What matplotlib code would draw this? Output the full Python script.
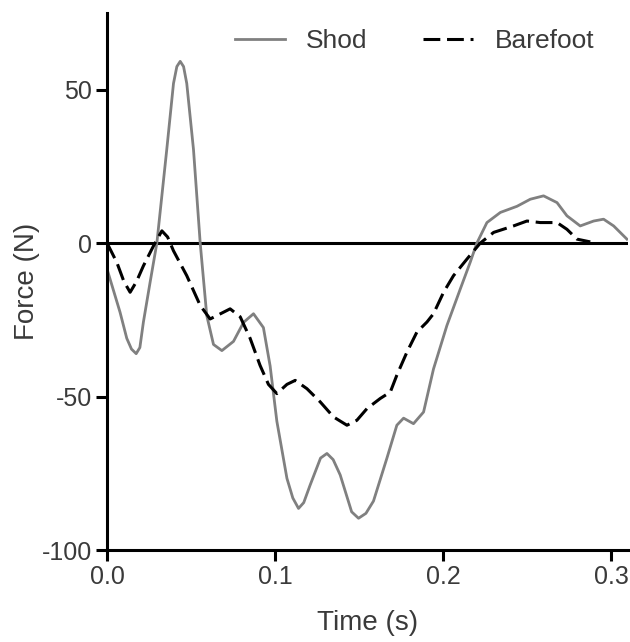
import matplotlib
matplotlib.use("Agg")
import matplotlib.pyplot as plt

plt.rcParams["font.family"] = ["Liberation Sans", "DejaVu Sans"]

# ── Data ──────────────────────────────────────────────────
shod_t = [0.0000, 0.0077, 0.0117, 0.0145, 0.0173, 0.0195, 0.0216, 0.0256, 0.0296, 0.0355,
          0.0395, 0.0415, 0.0435, 0.0455, 0.0474, 0.0514, 0.0554, 0.0593, 0.0633, 0.0683,
          0.0752, 0.0812, 0.0871, 0.0930, 0.0970, 0.1010, 0.1070, 0.1105, 0.1139, 0.1170,
          0.1208, 0.1270, 0.1308, 0.1345, 0.1387, 0.1455, 0.1496, 0.1540, 0.1585, 0.1665,
          0.1724, 0.1764, 0.1823, 0.1883, 0.1942, 0.2022, 0.2101, 0.2160, 0.2200, 0.2260,
          0.2340, 0.2439, 0.2518, 0.2597, 0.2677, 0.2736, 0.2815, 0.2895, 0.2954, 0.3014,
          0.3093]
shod_f = [-8.5, -22.5, -31, -34.5, -36, -34, -25.7, -12.7, 0, 30.5,
          52, 57.5, 59.2, 57.5, 52, 30.5, 0, -23.6, -33, -35,
          -32, -25.8, -23, -27.5, -40, -58, -76.6, -83, -86.4, -84.5,
          -78.8, -70, -68.5, -70.5, -75.5, -87.5, -89.6, -88, -84, -70,
          -59.3, -57, -58.8, -55, -41, -26.8, -15, -6.3, 0, 6.7,
          10, 12, 14.3, 15.4, 13.2, 8.9, 5.6, 7.2, 7.8, 5.6,
          1.3]

bare_t = [0.0000, 0.0058, 0.0100, 0.0137, 0.0175, 0.0216, 0.0276, 0.0326, 0.0360, 0.0395,
          0.0474, 0.0554, 0.0613, 0.0653, 0.0732, 0.0792, 0.0851, 0.0910, 0.0960, 0.1010,
          0.1070, 0.1119, 0.1189, 0.1268, 0.1347, 0.1427, 0.1486, 0.1546, 0.1625, 0.1685,
          0.1724, 0.1784, 0.1843, 0.1903, 0.1942, 0.2002, 0.2061, 0.2141, 0.2220, 0.2300,
          0.2418, 0.2498, 0.2577, 0.2677, 0.2736, 0.2796, 0.2875]
bare_f = [0, -6.3, -12.5, -16, -12.5, -7.4, -0.9, 4, 2, -2.5,
          -10.6, -20.3, -24.7, -23.6, -21.4, -24, -31, -39.8, -46, -49,
          -46, -44.7, -47.4, -51.7, -56.6, -59.3, -57.7, -53.9, -50.6, -48.5,
          -43, -35.5, -29, -25.7, -23, -16, -10.6, -5.2, 0, 3.5,
          5.6, 7.2, 6.7, 6.7, 4.5, 1.3, 0.4]

x_ticks = [0.0, 0.1, 0.2, 0.3]
x_tick_labels = ["0.0", "0.1", "0.2", "0.3"]
y_ticks = [-100, -50, 0, 50]
y_tick_labels = ["-100", "-50", "0", "50"]

# ── Plot ──────────────────────────────────────────────────
fig = plt.figure(figsize=(6.3, 6.42), dpi=100)
ax = fig.add_axes([0.170, 0.143, 0.827, 0.837])

ax.axhline(0, color="black", linewidth=2.2, zorder=1)
ax.plot(shod_t, shod_f, color="#808080", linewidth=2.0, label="Shod",
        solid_joinstyle="round", zorder=2)
ax.plot(bare_t, bare_f, color="black", linewidth=2.2, dashes=(5.5, 2.2),
        label="Barefoot", zorder=3)

ax.set_xlim(0, 0.31)
ax.set_ylim(-100, 75)
ax.set_xticks(x_ticks)
ax.set_xticklabels(x_tick_labels)
ax.set_yticks(y_ticks)
ax.set_yticklabels(y_tick_labels)

for side in ["top", "right"]:
    ax.spines[side].set_visible(False)
for side in ["left", "bottom"]:
    ax.spines[side].set_linewidth(2.2)
ax.tick_params(direction="out", length=8, width=2.2, labelsize=18,
               labelcolor="#3a3a3a", pad=3)

ax.set_xlabel("Time (s)", fontsize=20, color="#3a3a3a", labelpad=15)
ax.set_ylabel("Force (N)", fontsize=20, color="#3a3a3a", labelpad=1)

ax.legend(loc="center left", ncol=2, frameon=False, fontsize=19,
          handlelength=1.9, columnspacing=2.1, handletextpad=0.8,
          borderpad=0, borderaxespad=0, labelcolor="#3a3a3a",
          bbox_to_anchor=(235 / 630, 1 - 41 / 642), bbox_transform=fig.transFigure)

fig.savefig("out.png", dpi=100)
